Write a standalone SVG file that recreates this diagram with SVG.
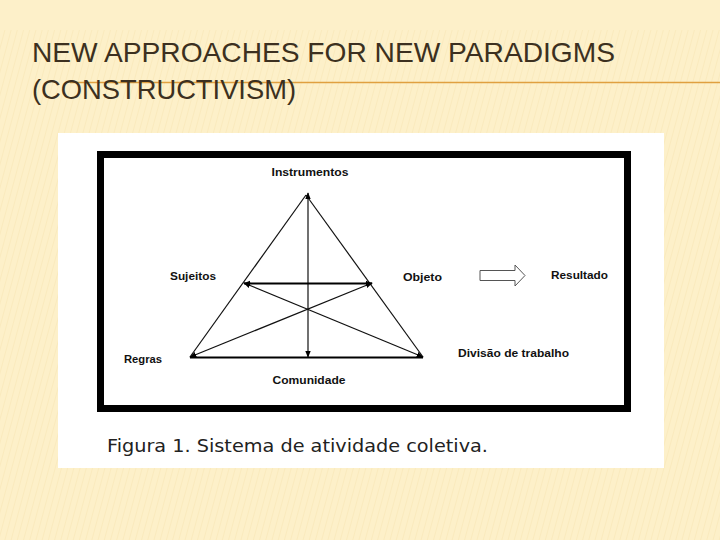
<svg xmlns="http://www.w3.org/2000/svg" width="720" height="540" viewBox="0 0 720 540">
<defs>
<pattern id="stripes" width="6" height="6" patternUnits="userSpaceOnUse" patternTransform="rotate(15)">
<rect width="6" height="6" fill="#FDF0C9"/>
<line x1="0" y1="0" x2="0" y2="6" stroke="#F3DFA6" stroke-width="1.2"/>
</pattern>
<marker id="ah" viewBox="0 0 10 10" refX="9" refY="5" markerWidth="7" markerHeight="7" orient="auto-start-reverse" markerUnits="userSpaceOnUse">
<path d="M0,1 L10,5 L0,9 z" fill="#000"/>
</marker>
<style>
.lbl{font-family:"Liberation Sans",Arial,sans-serif;font-weight:bold;font-size:10.5px;fill:#111}
.ln{stroke:#111;stroke-width:1.2;fill:none}
.title{font-family:"Liberation Sans",Arial,sans-serif;font-size:28px;fill:#3C3020}
</style>
</defs>
<rect width="720" height="540" fill="#FDF0C9"/>
<rect x="0" y="30" width="720" height="510" fill="url(#stripes)" opacity="0.55"/>
<line x1="70" y1="82.5" x2="720" y2="82.5" stroke="#E0A040" stroke-width="1.5"/>
<text class="title" x="32" y="62" textLength="583" lengthAdjust="spacingAndGlyphs">NEW APPROACHES FOR NEW PARADIGMS</text>
<text class="title" x="32" y="99" textLength="264" lengthAdjust="spacingAndGlyphs">(CONSTRUCTIVISM)</text>

<rect x="58" y="133" width="606" height="335" fill="#fff"/>
<rect x="100.5" y="154.5" width="527" height="254" fill="#fff" stroke="#000" stroke-width="7"/>

<g id="connectors">
<line class="ln" x1="306" y1="195" x2="190" y2="357"/>
<line class="ln" x1="306" y1="195" x2="423" y2="357"/>
<line x1="190" y1="357.5" x2="423" y2="357.5" stroke="#000" stroke-width="2.2"/>
<line class="ln" x1="308" y1="193" x2="308" y2="357" marker-start="url(#ah)" marker-end="url(#ah)"/>
<line x1="244" y1="283.5" x2="372" y2="283.5" stroke="#000" stroke-width="1.8" marker-start="url(#ah)" marker-end="url(#ah)"/>
<line class="ln" x1="190" y1="357" x2="372" y2="283" marker-start="url(#ah)" marker-end="url(#ah)"/>
<line class="ln" x1="244" y1="283" x2="423" y2="357" marker-start="url(#ah)" marker-end="url(#ah)"/>
<path d="M480,270.5 H515 V265 L525,275.5 L515,286 V280.5 H480 Z" fill="#fff" stroke="#555" stroke-width="1"/>
</g>

<g id="instrumentos"><text class="lbl" x="310" y="176" text-anchor="middle" textLength="77" lengthAdjust="spacingAndGlyphs">Instrumentos</text></g>
<g id="sujeitos"><text class="lbl" x="170" y="280" textLength="46" lengthAdjust="spacingAndGlyphs">Sujeitos</text></g>
<g id="objeto"><text class="lbl" x="403" y="281" textLength="39" lengthAdjust="spacingAndGlyphs">Objeto</text></g>
<g id="resultado"><text class="lbl" x="551" y="279" textLength="57" lengthAdjust="spacingAndGlyphs">Resultado</text></g>
<g id="regras"><text class="lbl" x="124" y="363" textLength="38" lengthAdjust="spacingAndGlyphs">Regras</text></g>
<g id="divisao"><text class="lbl" x="458" y="357" textLength="111" lengthAdjust="spacingAndGlyphs">Divisão de trabalho</text></g>
<g id="comunidade"><text class="lbl" x="309" y="384" text-anchor="middle" textLength="73" lengthAdjust="spacingAndGlyphs">Comunidade</text></g>

<text x="107" y="452" font-family="DejaVu Sans,Verdana,sans-serif" font-size="17" fill="#222" textLength="381" lengthAdjust="spacingAndGlyphs">Figura 1. Sistema de atividade coletiva.</text>
</svg>
